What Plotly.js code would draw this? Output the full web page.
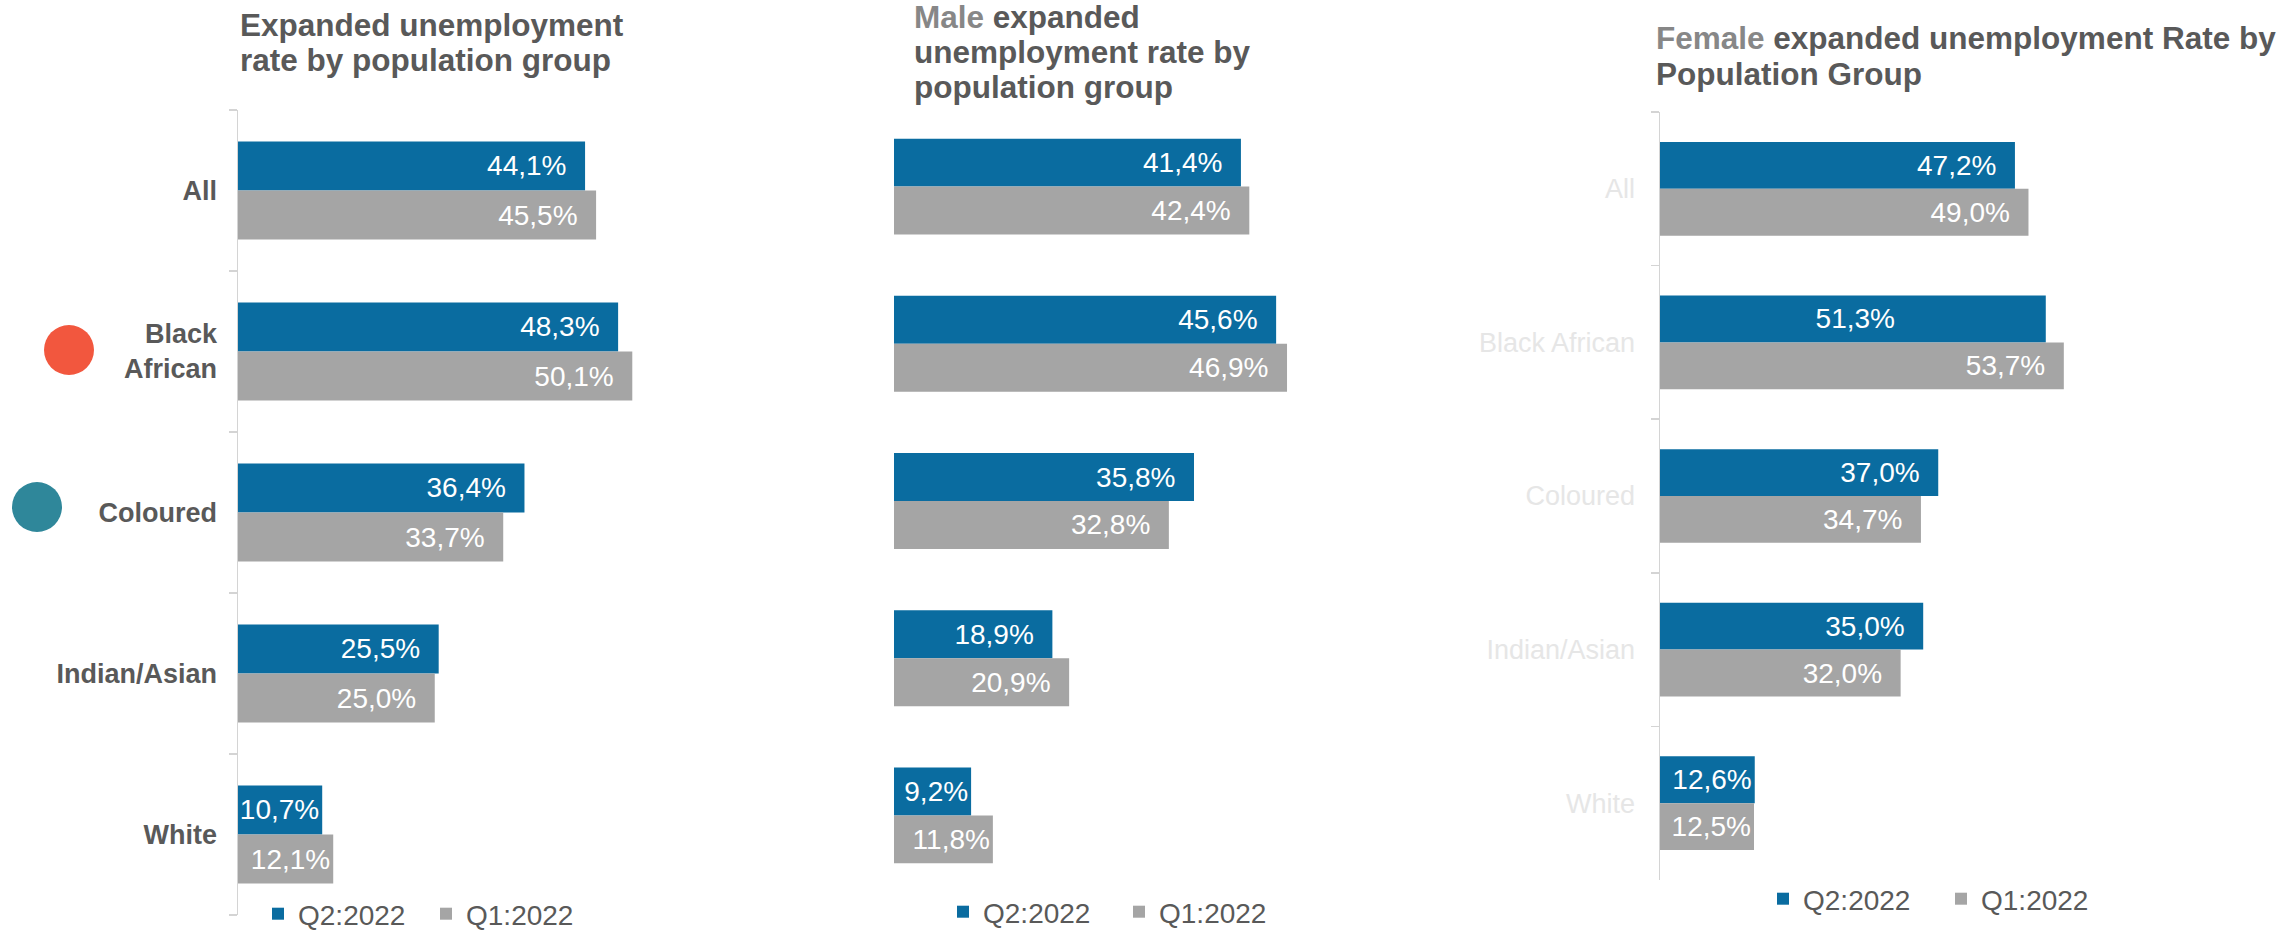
<!DOCTYPE html>
<html>
<head>
<meta charset="utf-8">
<script src="https://cdn.plot.ly/plotly-3.0.1.min.js"></script>
<style>
  html, body { margin: 0; padding: 0; background: #ffffff; }
  #chart { width: 2284px; height: 934px; }
</style>
</head>
<body>
<div id="chart"></div>
<script>
// ---------- data ----------
const categories = ['All', 'Black African', 'Coloured', 'Indian/Asian', 'White'];
const seriesNames = ['Q2:2022', 'Q1:2022'];
const totalQ2 = [44.1, 48.3, 36.4, 25.5, 10.7];
const totalQ1 = [45.5, 50.1, 33.7, 25.0, 12.1];
const maleQ2 = [41.4, 45.6, 35.8, 18.9, 9.2];
const maleQ1 = [42.4, 46.9, 32.8, 20.9, 11.8];
const femaleQ2 = [47.2, 51.3, 37.0, 35.0, 12.6];
const femaleQ1 = [49.0, 53.7, 34.7, 32.0, 12.5];

// ---------- styling ----------
const W = 2284, H = 934;
const FONT = 'Liberation Sans, Arial, sans-serif';
const BLUE = '#0A6CA0';
const GREY = '#A5A5A5';
const DARK = '#595959';
const px = v => v / W;
const py = v => 1 - v / H;

// number of trailing no-break spaces per label (visual offset from bar end)
const defaultPad = 2;
const femaleQ2Pad = [2, 19, 2, 2, 0];

function fmt(v) { return v.toFixed(1).replace('.', ',') + '%'; }
function labels(vals, pads) {
  return vals.map((v, i) => {
    const p = pads ? pads[i] : (v > 15 ? defaultPad : 0);
    return fmt(v) + '\u00a0'.repeat(p);
  });
}

const panels = [
  { q2: totalQ2, q1: totalQ1, xa: 'x', ya: 'y', legend: 'legend', pads2: null },
  { q2: maleQ2, q1: maleQ1, xa: 'x2', ya: 'y2', legend: 'legend2', pads2: null },
  { q2: femaleQ2, q1: femaleQ1, xa: 'x3', ya: 'y3', legend: 'legend3', pads2: femaleQ2Pad }
];

const traces = [];
panels.forEach(p => {
  [[p.q2, BLUE, seriesNames[0], p.pads2], [p.q1, GREY, seriesNames[1], null]].forEach(([vals, col, name, pads]) => {
    traces.push({
      type: 'bar', orientation: 'h',
      x: vals, y: categories, name: name,
      xaxis: p.xa, yaxis: p.ya, legend: p.legend,
      marker: { color: col, line: { width: 0 } },
      text: labels(vals, pads),
      textposition: 'inside', insidetextanchor: 'end',
      textangle: 0, constraintext: 'none', cliponaxis: false,
      textfont: { family: FONT, size: 28, color: '#ffffff' },
      hoverinfo: 'skip'
    });
  });
});

const hiddenX = { showgrid: false, zeroline: false, showticklabels: false, showline: false, ticks: '', fixedrange: true };

function yAxis(domain, opts) {
  return Object.assign({
    domain: domain, type: 'category', autorange: 'reversed',
    categoryorder: 'array', categoryarray: categories,
    showgrid: false, zeroline: false, fixedrange: true
  }, opts);
}

const layout = {
  width: W, height: H,
  margin: { l: 0, r: 0, t: 0, b: 0, pad: 0, autoexpand: false },
  paper_bgcolor: '#ffffff', plot_bgcolor: 'rgba(0,0,0,0)',
  barmode: 'group', bargap: 0.39, bargroupgap: 0,
  font: { family: FONT, color: DARK },
  showlegend: true,
  xaxis: Object.assign({ domain: [px(238), px(238 + 60 * 7.87)], range: [0, 60], anchor: 'y' }, hiddenX),
  yaxis: yAxis([py(915), py(110)], {
    anchor: 'x',
    showline: true, linecolor: '#d4d4d4', linewidth: 1.5,
    ticks: 'outside', ticklen: 8, tickwidth: 1.5, tickcolor: '#d4d4d4', tickson: 'boundaries',
    tickvals: categories,
    ticktext: categories.map(c => c.replace(' ', '<br>')),
    tickfont: { family: FONT, size: 27, color: DARK, weight: 'bold' },
    ticklabelstandoff: 14
  }),
  xaxis2: Object.assign({ domain: [px(894), px(894 + 50 * 8.38)], range: [0, 50], anchor: 'y2' }, hiddenX),
  yaxis2: yAxis([py(894), py(108)], {
    anchor: 'x2', showline: false, ticks: '', showticklabels: false
  }),
  xaxis3: Object.assign({ domain: [px(1660), px(1660 + 80 * 7.52)], range: [0, 80], anchor: 'y3' }, hiddenX),
  yaxis3: yAxis([py(880), py(112)], {
    anchor: 'x3',
    showline: true, linecolor: '#d4d4d4', linewidth: 1.5,
    ticks: 'outside', ticklen: 8, tickwidth: 1.5, tickcolor: '#d4d4d4', tickson: 'boundaries',
    tickfont: { family: FONT, size: 27, color: '#e6e6e6' },
    ticklabelstandoff: 18
  }),
  legend: {
    orientation: 'h', x: px(258), xanchor: 'left', y: py(914), yanchor: 'middle',
    entrywidth: 123, font: { family: FONT, size: 28, color: DARK }, bgcolor: 'rgba(0,0,0,0)'
  },
  legend2: {
    orientation: 'h', x: px(943), xanchor: 'left', y: py(912), yanchor: 'middle',
    entrywidth: 131, font: { family: FONT, size: 28, color: DARK }, bgcolor: 'rgba(0,0,0,0)'
  },
  legend3: {
    orientation: 'h', x: px(1763), xanchor: 'left', y: py(899), yanchor: 'middle',
    entrywidth: 133, font: { family: FONT, size: 28, color: DARK }, bgcolor: 'rgba(0,0,0,0)'
  },
  shapes: [
    { type: 'circle', xref: 'paper', yref: 'paper', xsizemode: 'pixel', ysizemode: 'pixel',
      xanchor: px(69), yanchor: py(350), x0: -25, x1: 25, y0: -25, y1: 25,
      fillcolor: '#F2573E', line: { width: 0 } },
    { type: 'circle', xref: 'paper', yref: 'paper', xsizemode: 'pixel', ysizemode: 'pixel',
      xanchor: px(37), yanchor: py(507), x0: -25, x1: 25, y0: -25, y1: 25,
      fillcolor: '#2F879A', line: { width: 0 } }
  ],
  annotations: []
};

const TITLE_SIZE = 31.5;
const titleLines = [
  [239, 36, 'Expanded unemployment'],
  [239, 71, 'rate by population group'],
  [913, 28, '<span style="color:#878787">Male</span> expanded'],
  [913, 63, 'unemployment rate by'],
  [913, 98, 'population group'],
  [1655, 49, '<span style="color:#878787">Female</span> expanded unemployment Rate by'],
  [1655, 85, 'Population Group']
];
titleLines.forEach(([x, base, txt]) => {
  layout.annotations.push({
    xref: 'paper', yref: 'paper', x: px(x), y: py(base - 11),
    xanchor: 'left', yanchor: 'middle', showarrow: false, borderpad: 0,
    text: txt, font: { family: FONT, size: TITLE_SIZE, color: DARK, weight: 'bold' }
  });
});

Plotly.newPlot('chart', traces, layout, { staticPlot: true, displayModeBar: false });
</script>
</body>
</html>
